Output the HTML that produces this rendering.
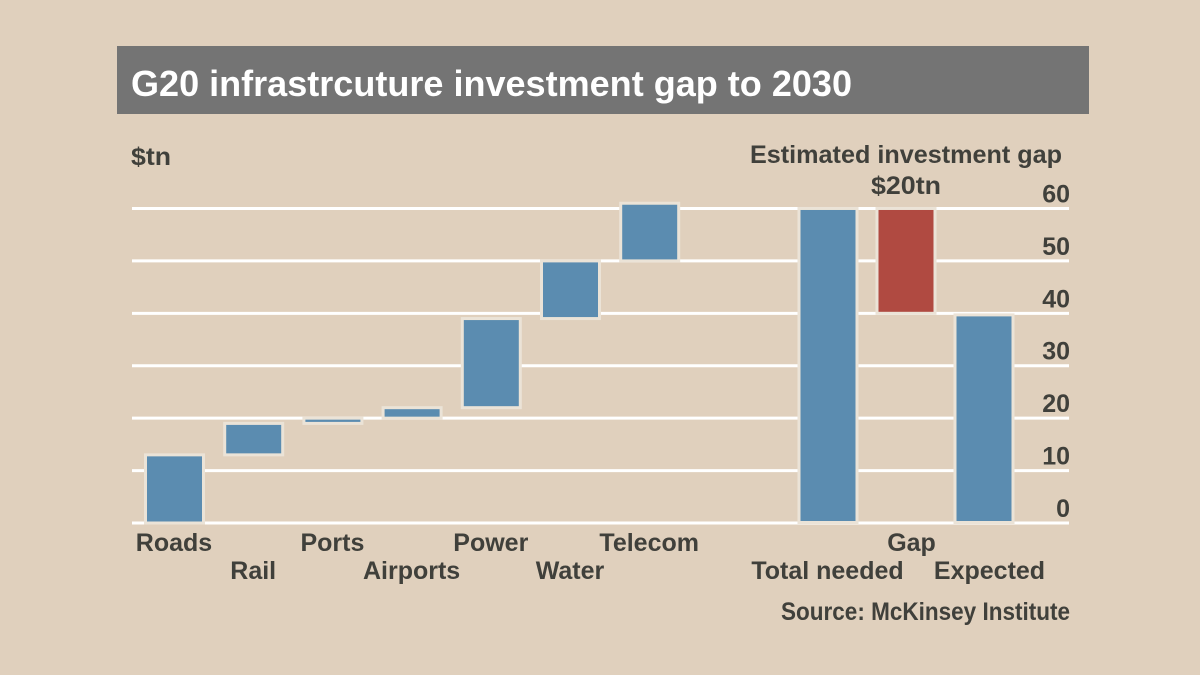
<!DOCTYPE html>
<html lang="en">
<head>
<meta charset="utf-8">
<title>G20 infrastructure investment gap to 2030</title>
<style>
html,body{margin:0;padding:0;background:#e0d0bd;}
svg{display:block;font-family:"Liberation Sans",sans-serif;font-weight:bold;}
.lab{font-size:25px;fill:#40403b;}
</style>
</head>
<body>
<svg id="chart" width="1200" height="675" viewBox="0 0 1200 675" xmlns="http://www.w3.org/2000/svg">
  <rect x="0" y="0" width="1200" height="675" fill="#e0d0bd"/>
  <rect x="117" y="46" width="972" height="68" fill="#747474"/>
  <text x="131" y="96" font-size="36" fill="#ffffff" textLength="721" lengthAdjust="spacingAndGlyphs">G20 infrastrcuture investment gap to 2030</text>
  <text class="lab" x="131" y="165" textLength="40" lengthAdjust="spacingAndGlyphs">$tn</text>
  <text class="lab" x="750" y="163" textLength="312" lengthAdjust="spacingAndGlyphs">Estimated investment gap</text>
  <text class="lab" x="871" y="194" textLength="70" lengthAdjust="spacingAndGlyphs">$20tn</text>
  <text class="lab" x="781" y="620" textLength="289" lengthAdjust="spacingAndGlyphs">Source: McKinsey Institute</text>
  <g id="grid"></g>
  <g id="bars"></g>
  <g id="ticks"></g>
  <g id="cats"></g>
</svg>
<script>
const categories = ["Roads","Rail","Ports","Airports","Power","Water","Telecom","Total needed","Gap","Expected"];
const barStart = [0,13,19,20,22,39,50,0,40,0];
const barEnd = [13,19,20,22,39,50,61,60,60,39.7];
const barKind = ["need","need","need","need","need","need","need","need","gap","need"];
const tickValues = [0,10,20,30,40,50,60];

const NS = "http://www.w3.org/2000/svg";
function y(v){ return 523 - v * 5.242; }
function x(i){ return i < 7 ? 174.5 + 79.2 * i : 828 + 78 * (i - 7); }
function mk(tag, attrs, parent){
  const el = document.createElementNS(NS, tag);
  for (const k in attrs) el.setAttribute(k, attrs[k]);
  parent.appendChild(el);
  return el;
}
const grid = document.getElementById("grid");
const bars = document.getElementById("bars");
const ticks = document.getElementById("ticks");
const cats = document.getElementById("cats");

tickValues.forEach(function(t){
  const line = mk("line", {x1:132, x2:1069, y1:y(t), y2:y(t), stroke:"#ffffff", "stroke-width":3}, grid);
  
  
  const label = mk("text", {x:1070, y:y(t) - 6, "text-anchor":"end", "class":"lab"}, ticks);
  
  
  label.textContent = String(t);
});

categories.forEach(function(name, i){
  const top = y(barEnd[i]);
  const bottom = i === 7 || i === 9 ? y(barStart[i]) - 0.5 : y(barStart[i]);
  const rect = mk("rect", {
    x:x(i) - 29, y:top, width:58, height:bottom - top,
    fill: barKind[i] === "gap" ? "#b04a41" : "#5b8cb0",
    stroke:"#ebe3d7", "stroke-width":3
  }, bars);
  
  
  const label = mk("text", {x:x(i) + (i > 7 ? 5.5 : -0.5), y:i % 2 ? 579 : 551, "text-anchor":"middle", "class":"lab"}, cats);
  
  
  label.textContent = name;
});
</script>
</body>
</html>
